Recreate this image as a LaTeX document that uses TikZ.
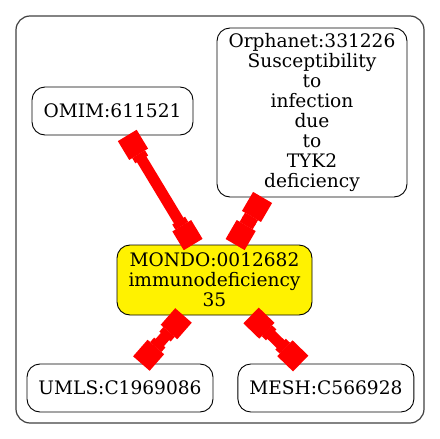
\documentclass[tikz,border=0pt]{standalone}
\usepackage{fontspec}
\setmainfont{DejaVu Serif}
\usepackage{tikz}
\usetikzlibrary{arrows.meta,positioning}

\begin{document}
\begin{tikzpicture}[
  x=1pt, y=-1pt,
  node distance=24pt,
  n/.style={draw, rounded corners=13pt, line width=0.9pt, align=center, inner sep=2pt, minimum height=48pt, font=\fontsize{18.6}{19.9}\selectfont},
  e/.style={red, line width=11pt,
    {Rectangle[length=22pt,width=22pt,line width=0pt,sep=0pt] Rectangle[length=6pt,width=15pt,line width=0pt,sep=0pt]}-{Rectangle[length=6pt,width=15pt,line width=0pt,sep=0pt] Rectangle[length=22pt,width=22pt,line width=0pt,sep=0pt]}}
]
  \useasboundingbox (0,0) rectangle (440,439);
  \draw[rounded corners=14pt, line width=1.2pt, black!75] (16,16) rectangle (424,423);
  \node[n, fill=yellow, minimum width=195pt, minimum height=70pt] (mondo) at (214.5,280) {MONDO:0012682\\ immunodeficiency\\ 35};
  \node[n, minimum width=161pt] (omim) at (112.5,111) {OMIM:611521};
  \node[n, minimum width=190pt, minimum height=169pt] (orph) at (312,112.5) {Orphanet:331226\\ Susceptibility\\ to\\ infection\\ due\\ to\\ TYK2\\ deficiency};
  \node[n, minimum width=186pt] (umls) at (120,388) {UMLS:C1969086};
  \node[n, minimum width=176pt, right=of umls] (mesh) {MESH:C566928};
  \draw[e] (omim) -- (mondo);
  \draw[e] (orph) -- (mondo);
  \draw[e] (mondo) -- (umls);
  \draw[e] (mondo) -- (mesh);
\end{tikzpicture}
\end{document}
